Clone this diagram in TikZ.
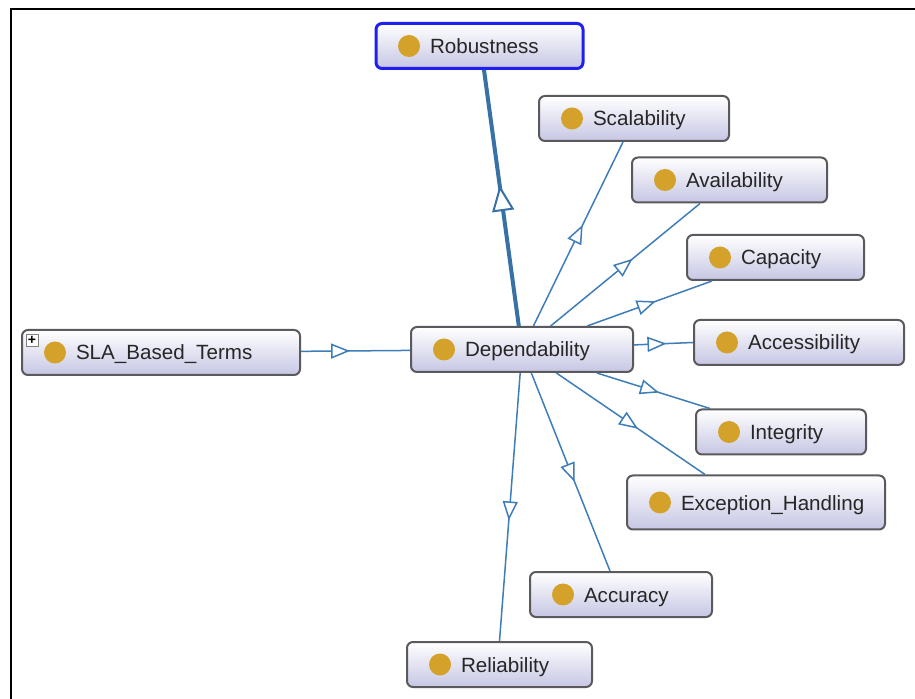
\documentclass[tikz,border=0pt]{standalone}
\usepackage{fontspec}
\setmainfont{Liberation Sans}
\usetikzlibrary{arrows.meta,decorations.markings}

\definecolor{boxline}{HTML}{5A5A5E}
\definecolor{boxlav}{HTML}{C6C6E4}
\definecolor{icongold}{HTML}{D4A12A}
\definecolor{edgeblue}{HTML}{3E7DB8}
\definecolor{selblue}{HTML}{1F1FF0}

\newcommand\clstext[2]{\makebox[#1][l]{\hspace*{16pt}#2}}

\tikzset{
  cls/.style={rectangle, rounded corners=3pt, draw=boxline, line width=1pt,
    top color=white, bottom color=boxlav, minimum height=22.5pt,
    inner xsep=11pt, inner ysep=0pt, text height=9pt, text depth=1.5pt,
    text=black!85, font=\fontsize{10.3}{12}\selectfont,
    path picture={\fill[icongold] ([xshift=16.5pt]path picture bounding box.west) circle (5.5pt);}},
  isa/.style={color=edgeblue, line width=0.75pt, postaction={decorate},
    decoration={markings, mark=at position #1 with {\arrow{Triangle[length=9.5pt,width=7.5pt,fill=white]}}}},
  isa/.default=0.55,
  isamain/.style={color=edgeblue!90!black, line width=2pt, postaction={decorate},
    decoration={markings, mark=at position 0.55 with {\arrow{Triangle[length=13pt,width=11pt,fill=white,line width=1pt]}}}},
  expander/.style={draw=gray, fill=white, minimum size=6pt, inner sep=0pt,
    font=\fontsize{7}{7}\selectfont\bfseries},
}

\begin{document}
\begin{tikzpicture}[x=0.5pt, y=-0.5pt]
\useasboundingbox (0,0) rectangle (915,699);

% frame
\draw[line width=1.3pt] (11,699) -- (11,9) -- (915,9);

% classes
\node[cls, draw=selblue, line width=1.5pt] (rob) at (479.5,46) {\clstext{81.5pt}{Robustness}};
\node[cls] (scal) at (634,118.5) {\clstext{73pt}{Scalability}};
\node[cls] (avail) at (729.5,180) {\clstext{75.5pt}{Availability}};
\node[cls] (cap) at (775.5,257.5) {\clstext{66.5pt}{Capacity}};
\node[cls] (acc) at (799,342.5) {\clstext{83pt}{Accessibility}};
\node[cls] (integ) at (781,432) {\clstext{63pt}{Integrity}};
\node[cls, minimum height=27pt] (exc) at (756,502.5) {\clstext{107pt}{Exception\_Handling}};
\node[cls] (accu) at (621,594.5) {\clstext{69pt}{Accuracy}};
\node[cls] (rel) at (499.5,664.5) {\clstext{70.5pt}{Reliability}};
\node[cls] (dep) at (522,349.5) {\clstext{89pt}{Dependability}};
\node[cls] (sla) at (161,352.5) {\clstext{117pt}{SLA\_Based\_Terms}};
\node[expander] (slaplus) at ([xshift=5.5pt,yshift=-5.5pt]sla.north west) {+};

% subclass links
\draw[isa=0.45] (sla) -- (dep);
\draw[isamain] (dep) -- ([xshift=2.25pt]rob.south);
\draw[isa] (dep) -- ([xshift=-5.5pt]scal.south);
\draw[isa] (dep) -- ([xshift=-14.75pt]avail.south);
\draw[isa] (dep) -- ([xshift=-31.75pt]cap.south);
\draw[isa] (dep) -- (acc.west);
\draw[isa] (dep) -- ([xshift=-35.5pt]integ.north);
\draw[isa] (dep) -- ([xshift=-25.5pt]exc.north);
\draw[isa] (dep) -- ([xshift=-5.5pt]accu.north);
\draw[isa] (dep) -- (rel.north);
\end{tikzpicture}
\end{document}
